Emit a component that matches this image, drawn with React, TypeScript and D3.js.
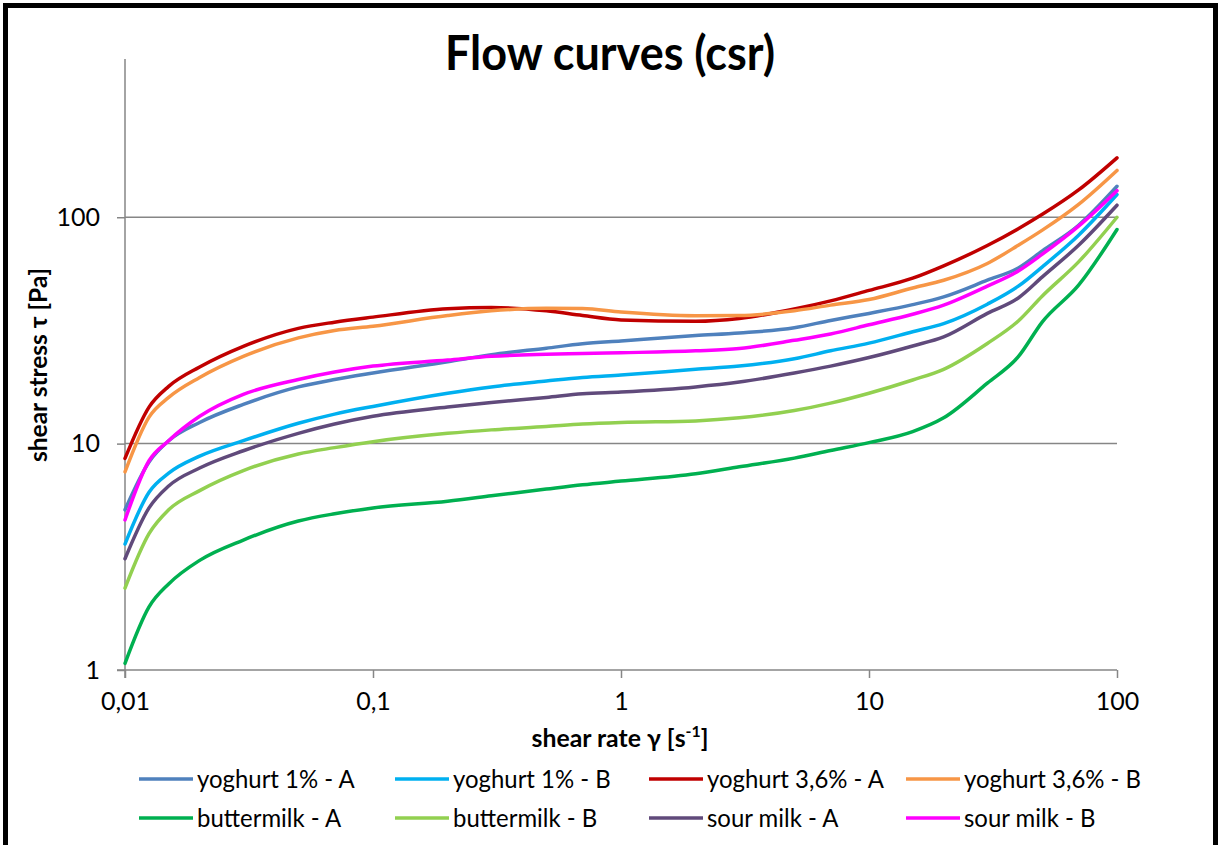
import React, { useRef, useEffect } from "react";
import * as d3 from "d3";

// shear rate grid [1/s]
const shearRate = [0.01, 0.0125, 0.015, 0.02, 0.03, 0.05, 0.07, 0.1, 0.2, 0.3, 0.5, 0.7, 1, 2, 3, 5, 7, 10, 15, 20, 30, 40, 50, 70, 100];

// shear stress [Pa]
const yoghurt1A = [5.1, 8.3, 10.3, 12.4, 14.9, 17.8, 19.2, 20.5, 23.0, 24.7, 26.4, 27.6, 28.4, 30.0, 30.8, 32.5, 35.0, 37.6, 41.1, 44.5, 52.7, 59.7, 71.0, 92.2, 137];
const yoghurt1B = [3.6, 6.1, 7.4, 8.8, 10.3, 12.3, 13.5, 14.6, 16.7, 17.8, 18.9, 19.6, 20.1, 21.3, 22.0, 23.7, 25.7, 27.8, 31.2, 33.9, 41.3, 49.6, 60.4, 83.3, 126];
const yoghurt36A = [8.6, 14.5, 17.9, 21.8, 26.9, 32.3, 34.4, 36.2, 39.4, 39.9, 38.6, 36.8, 35.2, 34.7, 35.7, 39.3, 42.7, 47.5, 53.8, 61.0, 75.0, 89.0, 103, 132, 183];
const yoghurt36B = [7.5, 13.1, 16.0, 19.6, 24.3, 29.3, 31.6, 33.0, 36.8, 38.6, 39.6, 39.5, 38.1, 36.7, 36.8, 38.6, 40.9, 43.3, 48.7, 52.7, 62.5, 75.2, 87.7, 114, 161];
const buttermilkA = [1.07, 1.9, 2.4, 3.05, 3.75, 4.55, 4.9, 5.2, 5.57, 5.88, 6.3, 6.58, 6.83, 7.36, 7.9, 8.63, 9.33, 10.1, 11.3, 13.0, 18.5, 24.2, 34.5, 50.1, 88.3];
const buttermilkB = [2.3, 4.0, 5.1, 6.2, 7.6, 9.0, 9.6, 10.2, 11.1, 11.5, 11.9, 12.2, 12.4, 12.6, 13.0, 14.0, 15.1, 16.7, 19.1, 21.3, 27.7, 34.8, 44.9, 63.5, 100];
const sourMilkA = [3.1, 5.2, 6.5, 7.8, 9.3, 11.1, 12.2, 13.2, 14.5, 15.2, 16.0, 16.6, 16.9, 17.8, 18.7, 20.5, 22.0, 24.0, 27.0, 29.6, 37.6, 44.0, 54.5, 75.2, 113];
const sourMilkB = [4.6, 8.4, 10.3, 13.2, 16.5, 19.2, 20.7, 22.0, 23.4, 24.3, 24.8, 25.0, 25.2, 25.7, 26.3, 28.6, 30.5, 33.5, 37.3, 40.9, 49.6, 57.9, 68.7, 91.3, 131];

const seriesNames = ["yoghurt 1% - A", "yoghurt 1% - B", "yoghurt 3,6% - A", "yoghurt 3,6% - B", "buttermilk - A", "buttermilk - B", "sour milk - A", "sour milk - B"];
const seriesValues = [yoghurt1A, yoghurt1B, yoghurt36A, yoghurt36B, buttermilkA, buttermilkB, sourMilkA, sourMilkB];
const seriesColors = ["#4F81BD", "#00B0F0", "#C00000", "#F79646", "#00B050", "#92D050", "#604A7B", "#FF00FF"];

const xTickValues = [0.01, 0.1, 1, 10, 100];
const xTickLabels = ["0,01", "0,1", "1", "10", "100"];
const yTickValues = [1, 10, 100];
const yTickLabels = ["1", "10", "100"];
const yGridValues = [10, 100];

const FONT = "Lato, 'Open Sans', sans-serif";
const AXIS_GREY = "#868686";

const App = () => {
  const ref = useRef(null);

  useEffect(() => {
    if (!ref.current) return;
    const svg = d3.select(ref.current);
    svg.selectAll("*").remove();

    const x = d3.scaleLog().domain([0.01, 100]).range([125, 1117]);
    const y = d3.scaleLog().domain([1, 500]).range([670, 59]);

    // frame
    svg.append("rect")
      .attr("x", 5.5).attr("y", 5.5)
      .attr("width", 1210).attr("height", 870)
      .attr("fill", "white")
      .attr("stroke", "black")
      .attr("stroke-width", 5);

    // gridlines
    svg.append("g")
      .selectAll("line")
      .data(yGridValues)
      .join("line")
      .attr("x1", x(0.01)).attr("x2", x(100))
      .attr("y1", d => y(d)).attr("y2", d => y(d))
      .attr("stroke", AXIS_GREY)
      .attr("stroke-width", 1.5);

    // y axis
    const yAxis = svg.append("g")
      .attr("transform", `translate(${x(0.01)},0)`)
      .call(
        d3.axisLeft(y)
          .tickValues(yTickValues)
          .tickFormat((d, i) => yTickLabels[i])
          .tickSizeInner(8)
          .tickSizeOuter(0)
          .tickPadding(17)
      );
    yAxis.select(".domain").remove();
    yAxis.selectAll("line").attr("stroke", AXIS_GREY).attr("stroke-width", 1.5);
    yAxis.selectAll("text")
      .attr("font-family", FONT)
      .attr("font-size", 25)
      .attr("fill", "black");
    yAxis.append("line")
      .attr("x1", 0).attr("x2", 0)
      .attr("y1", y(500)).attr("y2", y(1) + 8)
      .attr("stroke", AXIS_GREY).attr("stroke-width", 1.5);

    // x axis
    const xAxis = svg.append("g")
      .attr("transform", `translate(0,${y(1)})`)
      .call(
        d3.axisBottom(x)
          .tickValues(xTickValues)
          .tickFormat((d, i) => xTickLabels[i])
          .tickSizeInner(8)
          .tickSizeOuter(0)
          .tickPadding(14)
      );
    xAxis.select(".domain").remove();
    xAxis.selectAll("line").attr("stroke", AXIS_GREY).attr("stroke-width", 1.5);
    xAxis.selectAll("text")
      .attr("font-family", FONT)
      .attr("font-size", 25)
      .attr("fill", "black");
    xAxis.append("line")
      .attr("x1", x(0.01) - 8).attr("x2", x(100))
      .attr("y1", 0).attr("y2", 0)
      .attr("stroke", AXIS_GREY).attr("stroke-width", 1.5);

    // curves
    const line = d3.line()
      .x(d => x(d[0]))
      .y(d => y(d[1]))
      .curve(d3.curveMonotoneX);

    svg.append("g")
      .selectAll("path")
      .data(seriesValues)
      .join("path")
      .attr("d", vals => line(vals.map((v, i) => [shearRate[i], v])))
      .attr("fill", "none")
      .attr("stroke", (d, i) => seriesColors[i])
      .attr("stroke-width", 3.5)
      .attr("stroke-linejoin", "round")
      .attr("stroke-linecap", "round");

    // title
    svg.append("text")
      .attr("x", 610).attr("y", 70)
      .attr("text-anchor", "middle")
      .attr("font-family", FONT)
      .attr("font-weight", "bold")
      .attr("font-size", 47)
      .attr("textLength", 330)
      .attr("lengthAdjust", "spacingAndGlyphs")
      .text("Flow curves (csr)");

    // y title
    svg.append("text")
      .attr("transform", "translate(47,365) rotate(-90)")
      .attr("text-anchor", "middle")
      .attr("font-family", FONT)
      .attr("font-weight", "bold")
      .attr("font-size", 25)
      .attr("textLength", 194)
      .attr("lengthAdjust", "spacingAndGlyphs")
      .text("shear stress τ [Pa]");

    // x title, squeezed to the width in the picture
    const xTitle = svg.append("text")
      .attr("x", 620).attr("y", 747)
      .attr("text-anchor", "middle")
      .attr("font-family", FONT)
      .attr("font-weight", "bold")
      .attr("font-size", 25);
    xTitle.append("tspan").text("shear rate γ [s");
    xTitle.append("tspan").attr("font-size", 16).attr("dy", -10).text("-1");
    xTitle.append("tspan").attr("dy", 10).text("]");
    const bw = xTitle.node().getBBox().width;
    const k = 177 / bw;
    xTitle.attr("transform", `translate(620,0) scale(${k},1) translate(-620,0)`);

    // legend
    const legendColX = [139, 395, 649, 906];
    const legendRowY = [779, 818];
    const legend = svg.append("g");
    const items = legend.selectAll("g")
      .data(seriesNames)
      .join("g")
      .attr("transform", (d, i) => `translate(${legendColX[i % 4]},${legendRowY[Math.floor(i / 4)]})`);
    items.append("line")
      .attr("x1", 0).attr("x2", 54)
      .attr("y1", 0).attr("y2", 0)
      .attr("stroke", (d, i) => seriesColors[i])
      .attr("stroke-width", 3.5);
    const labels = items.append("text")
      .attr("x", 58)
      .attr("y", 9)
      .attr("font-family", FONT)
      .attr("font-size", 25)
      .text(d => d);
    // one squeeze factor for all labels, taken from the widest one
    const refWidth = labels.filter((d, i) => i === 2).node().getComputedTextLength();
    const squeeze = 177 / refWidth;
    labels.each(function () {
      const w = this.getComputedTextLength();
      d3.select(this)
        .attr("textLength", w * squeeze)
        .attr("lengthAdjust", "spacingAndGlyphs");
    });
  }, []);

  return (
    <svg
      ref={ref}
      width={1220}
      height={845}
      style={{ position: "absolute", left: 0, top: 0, background: "white" }}
    />
  );
};

export default App;
